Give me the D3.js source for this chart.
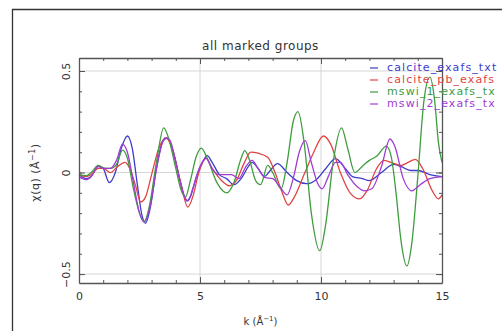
<!DOCTYPE html>
<html>
<head>
<meta charset="utf-8">
<script src="https://cdn.jsdelivr.net/npm/d3@7"></script>
<style>
  body { margin: 0; background: #fff; overflow: hidden; }
  svg { display: block; overflow: hidden; }
  svg text { font-family: "DejaVu Sans", sans-serif; fill: #333; }
</style>
</head>
<body>
<svg id="chart" width="502" height="331"></svg>
<script>
// k values and chi(k), one array per group
const seriesNames = ['calcite_exafs_txt', 'calcite_pb_exafs', 'mswi_1_exafs_tx', 'mswi_2_exafs_tx'],
    seriesColors = ['#3c3ccc', '#e04444', '#3e9c3e', '#a03cd4'];

const calciteExafs = [
    [0, -0.01], [0.3, -0.03], [0.5, -0.02], [0.8, 0.03], [1.0, 0.02], [1.25, -0.05], [1.5, 0.0],
    [1.75, 0.12], [2.0, 0.18], [2.2, 0.12], [2.4, -0.05], [2.6, -0.21], [2.75, -0.25], [2.95, -0.17],
    [3.2, 0.02], [3.45, 0.15], [3.65, 0.17], [3.9, 0.1], [4.2, -0.05], [4.45, -0.14], [4.6, -0.12],
    [4.85, -0.02], [5.1, 0.05], [5.3, 0.083], [5.5, 0.05], [5.8, -0.01], [6.1, -0.03], [6.4, -0.06],
    [6.7, -0.03], [7.0, 0.03], [7.15, 0.05], [7.4, 0.02], [7.65, -0.02], [7.9, 0.01], [8.2, 0.044],
    [8.6, 0.0], [9.0, -0.04], [9.4, -0.055], [9.8, -0.035], [10.2, 0.02], [10.6, 0.068], [11.0, 0.02],
    [11.3, -0.02], [11.7, -0.03], [12.0, -0.04], [12.5, 0.0], [13.0, 0.04], [13.3, 0.03], [13.7, 0.01],
    [14.0, 0.01], [14.5, -0.01], [15, -0.02]
];

const calcitePb = [
    [0, -0.01], [0.3, -0.02], [0.5, -0.01], [0.8, 0.02], [1.0, 0.02], [1.3, 0.0], [1.6, 0.03],
    [1.9, 0.05], [2.1, 0.02], [2.35, -0.07], [2.55, -0.145], [2.75, -0.12], [3.0, -0.01], [3.3, 0.12],
    [3.6, 0.17], [3.85, 0.12], [4.2, -0.05], [4.5, -0.17], [4.7, -0.12], [4.95, 0.0], [5.25, 0.07],
    [5.5, 0.02], [5.9, -0.04], [6.2, -0.065], [6.5, -0.04], [6.8, 0.04], [7.1, 0.1], [7.4, 0.095],
    [7.8, 0.075], [8.1, 0.0], [8.4, -0.1], [8.65, -0.16], [8.9, -0.12], [9.3, -0.01], [9.7, 0.1],
    [10.1, 0.18], [10.4, 0.14], [10.8, 0.0], [11.2, -0.1], [11.6, -0.13], [11.9, -0.09], [12.3, 0.02],
    [12.6, 0.06], [13.0, 0.045], [13.3, 0.035], [13.6, 0.05], [13.9, 0.065], [14.2, 0.02],
    [14.6, -0.09], [14.85, -0.13], [15, -0.11]
];

const mswi1 = [
    [0, -0.01], [0.3, -0.015], [0.5, 0.0], [0.8, 0.035], [1.1, 0.02], [1.3, 0.02], [1.55, 0.04],
    [1.8, 0.11], [2.0, 0.07], [2.25, -0.08], [2.5, -0.2], [2.7, -0.24], [2.9, -0.17], [3.2, 0.05],
    [3.5, 0.22], [3.7, 0.17], [4.0, 0.02], [4.2, -0.08], [4.4, -0.12], [4.6, -0.04], [4.85, 0.08],
    [5.05, 0.12], [5.3, 0.07], [5.7, -0.05], [6.1, -0.1], [6.4, -0.05], [6.7, 0.07], [6.85, 0.108],
    [7.05, 0.06], [7.3, -0.04], [7.5, -0.06], [7.8, 0.035], [8.0, 0.0], [8.35, -0.08], [8.6, 0.05],
    [8.85, 0.25], [9.05, 0.3], [9.3, 0.15], [9.6, -0.2], [9.95, -0.385], [10.2, -0.25], [10.5, 0.05],
    [10.85, 0.22], [11.1, 0.12], [11.4, 0.0], [11.7, 0.03], [12.0, 0.06], [12.3, 0.08], [12.7, 0.13],
    [12.9, 0.08], [13.1, -0.1], [13.3, -0.33], [13.55, -0.46], [13.75, -0.35], [14.0, -0.02],
    [14.25, 0.35], [14.5, 0.47], [14.7, 0.35], [14.85, 0.15], [15, 0.05]
];

const mswi2 = [
    [0, -0.02], [0.3, -0.035], [0.5, -0.02], [0.8, 0.03], [1.0, 0.02], [1.3, 0.02], [1.55, 0.06],
    [1.8, 0.14], [2.0, 0.1], [2.25, -0.05], [2.5, -0.2], [2.7, -0.245], [2.95, -0.16], [3.25, 0.05],
    [3.55, 0.17], [3.75, 0.16], [4.0, 0.05], [4.3, -0.1], [4.5, -0.14], [4.7, -0.08], [5.0, 0.03],
    [5.25, 0.07], [5.5, 0.02], [5.75, -0.01], [6.0, -0.01], [6.3, -0.01], [6.6, -0.03], [6.9, 0.03],
    [7.15, 0.06], [7.4, 0.02], [7.7, -0.025], [8.0, -0.03], [8.3, -0.07], [8.6, -0.11], [8.85, -0.03],
    [9.1, 0.1], [9.35, 0.157], [9.6, 0.05], [9.85, -0.05], [10.05, -0.08], [10.3, -0.02], [10.6, 0.05],
    [10.8, 0.05], [11.1, -0.01], [11.5, -0.07], [11.8, -0.09], [12.1, -0.08], [12.5, 0.03],
    [12.85, 0.165], [13.05, 0.13], [13.4, -0.03], [13.75, -0.09], [14.1, -0.06], [14.5, -0.03], [15, -0.02]
];

const xTicks = [0, 5, 10, 15],
    yTicks = [-0.5, 0, 0.5],
    yTickLabels = ['\u22120.5', '0', '0.5'];

const svg = d3.select('svg#chart');

const plot = { left: 79, right: 442, top: 58, bottom: 283 };

const x = d3.scaleLinear().domain([0, 15]).range([plot.left, plot.right]),
    y = d3.scaleLinear().domain([-0.544, 0.564]).range([plot.bottom, plot.top]);

// outer frame, only its left and top edges are in view
svg.append('path')
    .attr('d', 'M12.5,331V9.5H502')
    .attr('fill', 'none')
    .attr('stroke', '#333')
    .attr('stroke-width', 1.3);

// grid
svg.append('g').selectAll('line')
    .data([5, 10]).enter().append('line')
    .attr('x1', d => x(d)).attr('x2', d => x(d))
    .attr('y1', plot.top).attr('y2', plot.bottom)
    .attr('stroke', '#d6d6d6').attr('stroke-width', 1);
svg.append('g').selectAll('line')
    .data(yTicks).enter().append('line')
    .attr('x1', plot.left).attr('x2', plot.right)
    .attr('y1', d => y(d)).attr('y2', d => y(d))
    .attr('stroke', '#d6d6d6').attr('stroke-width', 1);

// curves (all values sit inside the y domain, so no clipping is needed)
const lineGen = d3.line()
    .x(d => x(d[0]))
    .y(d => y(d[1]))
    .curve(d3.curveMonotoneX);

const allSeries = [calciteExafs, calcitePb, mswi1, mswi2];

svg.append('g')
    .selectAll('path')
    .data(allSeries).enter().append('path')
    .attr('d', lineGen)
    .attr('fill', 'none')
    .attr('stroke', (d, i) => seriesColors[i])
    .attr('stroke-width', 1.3)
    .attr('stroke-linejoin', 'round');

// axes, ticks pointing inwards
function styleAxis(g) {
    g.selectAll('path.domain').attr('stroke', '#555').attr('stroke-width', 1.3);
    g.selectAll('.tick line').attr('stroke', '#555').attr('stroke-width', 1);
}

const minorX = d3.range(0, 16),
    minorY = d3.range(-5, 6).map(d => d / 10);

svg.append('g').attr('transform', `translate(0,${plot.bottom})`)
    .call(d3.axisBottom(x).tickValues(minorX).tickSize(-3).tickSizeOuter(0).tickFormat(''))
    .call(styleAxis);
svg.append('g').attr('transform', `translate(0,${plot.top})`)
    .call(d3.axisTop(x).tickValues(minorX).tickSize(-3).tickSizeOuter(0).tickFormat(''))
    .call(styleAxis);
svg.append('g').attr('transform', `translate(${plot.left},0)`)
    .call(d3.axisLeft(y).tickValues(minorY).tickSize(-3).tickSizeOuter(0).tickFormat(''))
    .call(styleAxis);
svg.append('g').attr('transform', `translate(${plot.right},0)`)
    .call(d3.axisRight(y).tickValues(minorY).tickSize(-3).tickSizeOuter(0).tickFormat(''))
    .call(styleAxis);

// major ticks + labels
const xMajor = svg.append('g').attr('transform', `translate(0,${plot.bottom})`)
    .call(d3.axisBottom(x).tickValues(xTicks).tickSize(-6).tickSizeOuter(0).tickPadding(9).tickFormat(d3.format('d')))
    .call(styleAxis);
xMajor.selectAll('text').attr('font-size', 11).style('fill', '#333');
xMajor.select('path.domain').remove();

svg.append('g').attr('transform', `translate(0,${plot.top})`)
    .call(d3.axisTop(x).tickValues(xTicks).tickSize(-6).tickSizeOuter(0).tickFormat(''))
    .call(styleAxis)
    .select('path.domain').remove();

const yMajor = svg.append('g').attr('transform', `translate(${plot.left},0)`)
    .call(d3.axisLeft(y).tickValues(yTicks).tickSize(-6).tickSizeOuter(0).tickFormat((d, i) => yTickLabels[i]))
    .call(styleAxis);
yMajor.select('path.domain').remove();
yMajor.selectAll('text')
    .attr('x', 0).attr('dy', null)
    .attr('text-anchor', 'middle')
    .attr('dominant-baseline', 'middle')
    .attr('transform', 'translate(-12,0) rotate(-90)')
    .attr('font-size', 11).style('fill', '#333');

svg.append('g').attr('transform', `translate(${plot.right},0)`)
    .call(d3.axisRight(y).tickValues(yTicks).tickSize(-6).tickSizeOuter(0).tickFormat(''))
    .call(styleAxis)
    .select('path.domain').remove();

// title and axis labels
svg.append('text')
    .attr('x', (plot.left + plot.right) / 2).attr('y', 50)
    .attr('text-anchor', 'middle')
    .attr('font-size', 12)
    .attr('letter-spacing', 0.5)
    .text('all marked groups');

svg.append('text')
    .attr('transform', `translate(36,${y(0)}) rotate(-90)`)
    .attr('text-anchor', 'middle')
    .attr('dominant-baseline', 'middle')
    .attr('font-size', 11)
    .attr('letter-spacing', 0.5)
    .html('\u03c7(q)  (\u00c5<tspan dy="-4" font-size="8">\u22121</tspan><tspan dy="4">)</tspan>');

svg.append('text')
    .attr('x', (plot.left + plot.right) / 2).attr('y', 325)
    .attr('text-anchor', 'middle')
    .attr('font-size', 10)
    .html('k  (\u00c5<tspan dy="-4" font-size="7">\u22121</tspan><tspan dy="4">)</tspan>');

// legend
const legend = svg.append('g').selectAll('g')
    .data(seriesNames).enter().append('g')
    .attr('transform', (d, i) => `translate(370,${68 + i * 12})`);

legend.append('line')
    .attr('x1', 0).attr('x2', 8)
    .attr('stroke', (d, i) => seriesColors[i])
    .attr('stroke-width', 1.2);

legend.append('text')
    .attr('x', 17)
    .attr('dominant-baseline', 'middle')
    .attr('font-size', 11)
    .attr('letter-spacing', 1.1)
    .style('fill', (d, i) => seriesColors[i])
    .text(d => d);
</script>
</body>
</html>
